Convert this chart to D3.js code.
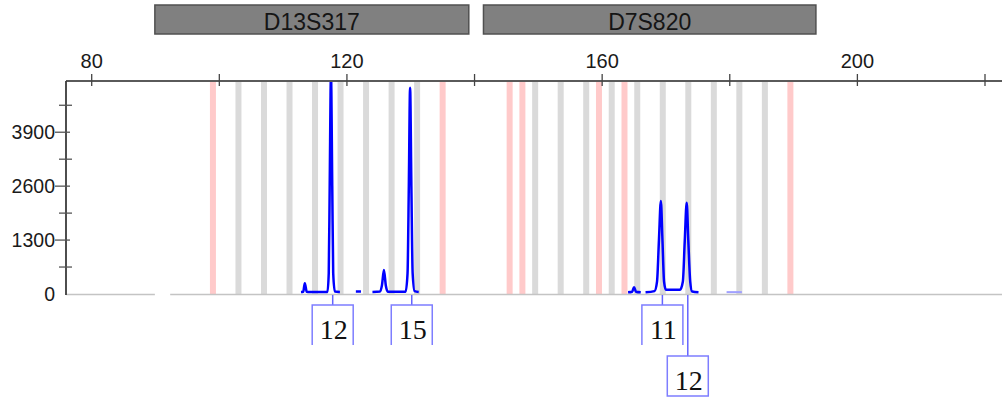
<!DOCTYPE html>
<html>
<head>
<meta charset="utf-8">
<script src="https://cdn.jsdelivr.net/npm/d3@7"></script>
<style>
  body { margin: 0; background: #fff; }
  svg { display: block; }
</style>
</head>
<body>
<svg id="epg"></svg>
<script>
(() => {
    const width = 1002;
    const height = 399;

    // axis ticks
    const xTicks = [80, 100, 120, 140, 160, 180, 200, 220];
    const xLabels = [80, 120, 160, 200];
    const yTicks = [0, 650, 1300, 1950, 2600, 3250, 3900, 4550];
    const yLabels = [0, 1300, 2600, 3900];

    // loci (size range in bp)
    const lociNames = ["D13S317", "D7S820"];
    const lociStart = [89.9, 141.4];
    const lociEnd = [139.1, 193.5];

    // allele bins
    const grayBins = [103, 107, 111, 115, 119, 123, 127, 131,
        149.5, 153.5, 157.5, 161.5, 165.5, 169.5, 173.5, 177.5, 181.5, 185.5];
    const pinkBins = [99, 135, 145.5, 147.5, 159.5, 163.5, 189.5];

    // trace pieces, [size bp, RFU]
    const trace1 = [[112.8, 50], [113.15, 55], [113.4, 260], [113.7, 55], [114.1, 50],
        [116.95, 50], [117.15, 500], [117.3, 2600], [117.5, 5300], [117.7, 2600],
        [117.85, 500], [118.1, 60], [118.9, 50]];
    const trace2 = [[121.4, 60], [122.2, 60]];
    const trace3 = [[124.0, 50], [125.2, 60], [125.5, 220], [125.8, 580], [126.1, 200],
        [126.4, 55], [129.2, 55], [129.5, 500], [129.7, 2600], [129.9, 4975],
        [130.1, 2600], [130.3, 500], [130.6, 70], [131.25, 50]];
    const trace4 = [[164.06, 40], [164.7, 55], [165.0, 165], [165.3, 55], [166.05, 40]];
    const trace5 = [[166.8, 40], [168.2, 70], [168.6, 300], [168.9, 1300], [169.2, 2240],
        [169.45, 1300], [169.7, 300], [170.0, 100], [172.2, 100], [172.65, 300],
        [172.95, 1300], [173.25, 2200], [173.5, 1300], [173.8, 300], [174.1, 60],
        [175.1, 40]];
    const faintTrace = [[179.5, 45], [181.9, 45]];

    // allele calls
    const alleleNames = ["12", "15", "11", "12"];
    const alleleSize = [117.77, 130.16, 169.44, 173.42];
    const alleleRow = [0, 0, 0, 1];

    const svg = d3.select("#epg")
        .attr("width", width)
        .attr("height", height);

    const x = d3.scaleLinear().domain([80, 220]).range([91.7, 985]);
    const y = d3.scaleLinear().domain([0, 5135]).range([294, 81]);
    const plotLeft = 66;
    const plotTop = y.range()[1];
    const plotBottom = y.range()[0];

    // locus header bars
    const loci = lociNames.map((n, i) => ({ name: n, start: lociStart[i], end: lociEnd[i] }));
    svg.selectAll(".locus")
        .data(loci)
        .enter()
        .append("rect")
        .attr("class", "locus")
        .attr("x", d => x(d.start))
        .attr("y", 5)
        .attr("width", d => x(d.end) - x(d.start))
        .attr("height", 29)
        .attr("fill", "#808080")
        .attr("stroke", "#505050")
        .attr("stroke-width", 1.5);
    svg.selectAll(".locusText")
        .data(loci)
        .enter()
        .append("text")
        .attr("x", d => (x(d.start) + x(d.end)) / 2)
        .attr("y", 30)
        .attr("text-anchor", "middle")
        .attr("font-family", "Liberation Sans, Arial, sans-serif")
        .attr("font-size", "23px")
        .attr("fill", "#151515")
        .text(d => d.name);

    // bins
    svg.append("g")
        .selectAll("rect")
        .data(grayBins)
        .enter()
        .append("rect")
        .attr("x", d => x(d) - 3)
        .attr("y", plotTop)
        .attr("width", 6)
        .attr("height", plotBottom - plotTop)
        .attr("fill", "#dadada");
    svg.append("g")
        .selectAll("rect")
        .data(pinkBins)
        .enter()
        .append("rect")
        .attr("x", d => x(d) - 3)
        .attr("y", plotTop)
        .attr("width", 6)
        .attr("height", plotBottom - plotTop)
        .attr("fill", "#ffcaca");

    // baseline (with the small gap near the left)
    const baseParts = [[76, 89.9], [92.3, 224]];
    svg.append("g")
        .selectAll("line")
        .data(baseParts)
        .enter()
        .append("line")
        .attr("x1", d => Math.max(plotLeft, x(d[0])))
        .attr("x2", d => x(d[1]))
        .attr("y1", plotBottom + 0.5)
        .attr("y2", plotBottom + 0.5)
        .attr("stroke", "#c4c4c4")
        .attr("stroke-width", 1.5);

    // trace
    svg.append("clipPath")
        .attr("id", "plotClip")
        .append("rect")
        .attr("x", plotLeft)
        .attr("y", plotTop)
        .attr("width", width - plotLeft)
        .attr("height", plotBottom - plotTop + 5);

    const line = d3.line()
        .x(d => x(d[0]))
        .y(d => y(d[1]))
        .curve(d3.curveMonotoneX);

    svg.append("g")
        .attr("clip-path", "url(#plotClip)")
        .selectAll("path")
        .data([trace1, trace2, trace3, trace4, trace5])
        .enter()
        .append("path")
        .attr("d", line)
        .attr("fill", "none")
        .attr("stroke", "#0000ff")
        .attr("stroke-width", 2.5)
        .attr("stroke-linejoin", "round");
    svg.append("path")
        .attr("d", line(faintTrace))
        .attr("fill", "none")
        .attr("stroke", "#a0a0ff")
        .attr("stroke-width", 2);

    // top axis
    svg.append("line")
        .attr("x1", plotLeft)
        .attr("x2", width)
        .attr("y1", plotTop)
        .attr("y2", plotTop)
        .attr("stroke", "#5a5a5a")
        .attr("stroke-width", 1.8);
    svg.append("g")
        .selectAll("line")
        .data(xTicks)
        .enter()
        .append("line")
        .attr("x1", d => x(d))
        .attr("x2", d => x(d))
        .attr("y1", plotTop - 7)
        .attr("y2", plotTop + 5)
        .attr("stroke", "#444")
        .attr("stroke-width", 1.3);
    svg.append("g")
        .selectAll("text")
        .data(xLabels)
        .enter()
        .append("text")
        .attr("x", d => x(d))
        .attr("y", 68)
        .attr("text-anchor", "middle")
        .attr("font-family", "Liberation Sans, Arial, sans-serif")
        .attr("font-size", "20px")
        .attr("fill", "#1a1a1a")
        .text(d => d);

    // left axis
    svg.append("line")
        .attr("x1", plotLeft)
        .attr("x2", plotLeft)
        .attr("y1", plotTop)
        .attr("y2", plotBottom + 1)
        .attr("stroke", "#3a3a3a")
        .attr("stroke-width", 1.8);
    svg.append("g")
        .selectAll("line")
        .data(yTicks.filter(d => d > 0))
        .enter()
        .append("line")
        .attr("x1", d => yLabels.includes(d) ? plotLeft - 11 : plotLeft - 7)
        .attr("x2", d => yLabels.includes(d) ? plotLeft + 4 : plotLeft + 6)
        .attr("y1", d => y(d))
        .attr("y2", d => y(d))
        .attr("stroke", "#555")
        .attr("stroke-width", 1.3);
    svg.append("g")
        .selectAll("text")
        .data(yLabels)
        .enter()
        .append("text")
        .attr("x", 55)
        .attr("y", d => y(d) + 7)
        .attr("text-anchor", "end")
        .attr("font-family", "Liberation Sans, Arial, sans-serif")
        .attr("font-size", "19.5px")
        .attr("fill", "#1a1a1a")
        .text(d => d);

    // allele call boxes
    const calls = alleleNames.map((n, i) => ({ name: n, size: alleleSize[i], row: alleleRow[i] }));
    const boxW = 41;
    const boxH = 40;
    const boxTop = [305, 356];

    const callG = svg.append("g")
        .selectAll("g")
        .data(calls)
        .enter()
        .append("g");
    callG.append("line")
        .attr("x1", d => x(d.size))
        .attr("x2", d => x(d.size))
        .attr("y1", plotBottom + 1)
        .attr("y2", d => boxTop[d.row])
        .attr("stroke", "#6464ff")
        .attr("stroke-width", 1.5);
    callG.append("path")
        .attr("d", d => {
            const l = x(d.size) - boxW / 2, r = x(d.size) + boxW / 2;
            const t = boxTop[d.row], b = t + boxH;
            return d.row === 0
                ? `M${l},${b}V${t}H${r}V${b}`
                : `M${l},${b}V${t}H${r}V${b}Z`;
        })
        .attr("fill", "#fff")
        .attr("fill-opacity", d => d.row === 0 ? 0 : 1)
        .attr("stroke", "#7e7eff")
        .attr("stroke-width", 1.5);
    callG.append("text")
        .attr("x", d => x(d.size) + 1)
        .attr("y", d => boxTop[d.row] + 34)
        .attr("text-anchor", "middle")
        .attr("font-family", "Liberation Serif, Times New Roman, serif")
        .attr("font-size", "28px")
        .attr("fill", "#111")
        .text(d => d.name);
})();
</script>
</body>
</html>
